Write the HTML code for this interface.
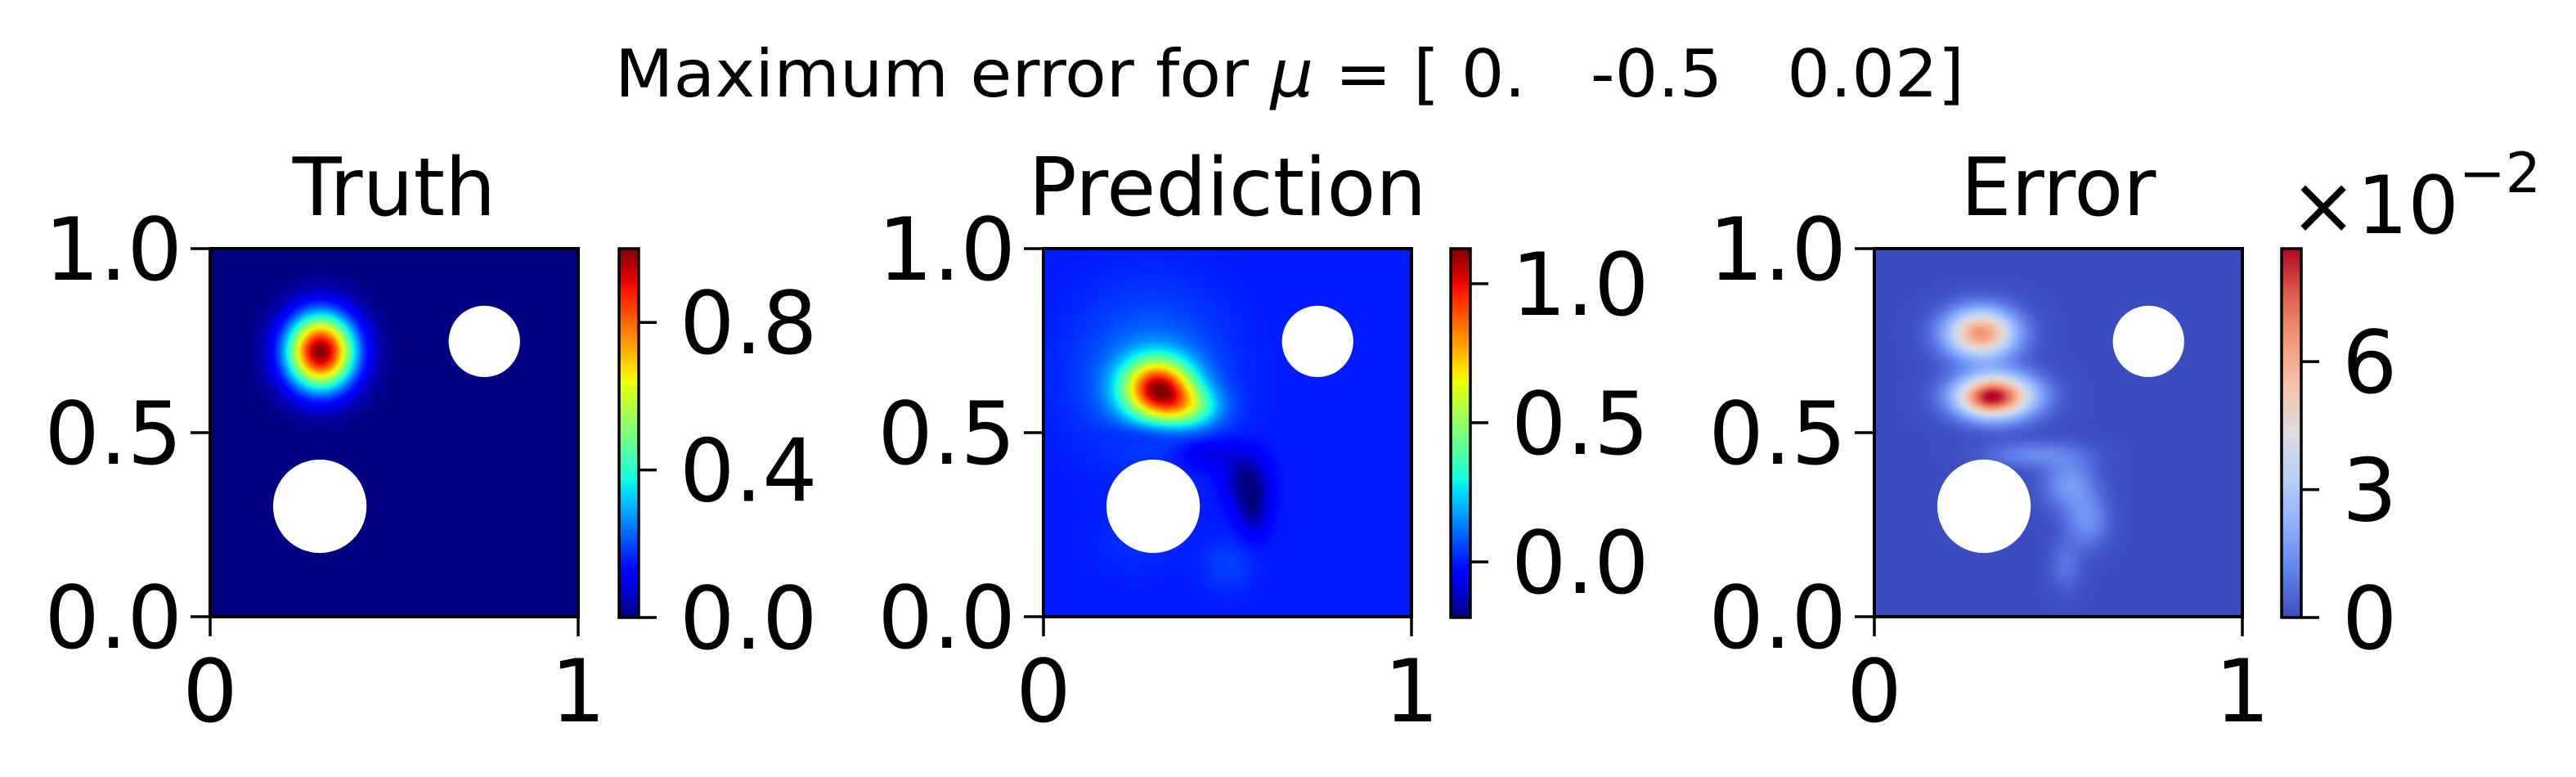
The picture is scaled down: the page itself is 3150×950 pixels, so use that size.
<!DOCTYPE html>
<html><head><meta charset="utf-8">
<style>
html,body{margin:0;padding:0;background:#fff;}
#root{position:relative;width:3150px;height:950px;overflow:hidden;font-family:"DejaVu Sans","Liberation Sans",sans-serif;}
canvas{position:absolute;}
svg{position:absolute;left:0;top:0;}
</style></head>
<body>
<div id="root">
<canvas id="c0" width="150" height="150" style="left:257px;top:304px;width:450px;height:450px"></canvas>
<canvas id="c1" width="150" height="150" style="left:1276px;top:304px;width:450px;height:450px"></canvas>
<canvas id="c2" width="150" height="150" style="left:2292px;top:304px;width:450px;height:450px"></canvas>
<canvas id="cb0" width="1" height="300" style="left:757px;top:304px;width:24px;height:451px"></canvas>
<canvas id="cb1" width="1" height="300" style="left:1774px;top:304px;width:24px;height:451px"></canvas>
<canvas id="cb2" width="1" height="300" style="left:2790px;top:304px;width:24px;height:451px"></canvas>
<svg id="ov" width="3150" height="950">
<text x="1577" y="118" text-anchor="middle" font-size="80" style="white-space:pre" xml:space="preserve" textLength="1650" lengthAdjust="spacingAndGlyphs">Maximum error for <tspan font-style="italic">μ</tspan> = [ 0.   -0.5   0.02]</text>
<text x="2800" y="285" font-size="98">×10<tspan font-size="68" dy="-50">−2</tspan></text>
</svg>
</div>
<script>
// ---- data ----
const panelTitles = ["Truth", "Prediction", "Error"];
const axisTicks = [0, 0.5, 1.0];
const axisTickLabels = ["0.0", "0.5", "1.0"];
const xTicks = [0, 1];
const xTickLabels = ["0", "1"];
const colorRanges = [[0, 1.0], [-0.2, 1.126], [0, 0.0865]];
const cbTicks0 = [0, 0.4, 0.8];
const cbLabels0 = ["0.0", "0.4", "0.8"];
const cbTicks1 = [0, 0.5, 1.0];
const cbLabels1 = ["0.0", "0.5", "1.0"];
const cbTicks2 = [0, 0.03, 0.06];
const cbLabels2 = ["0", "3", "6"];
// holes (cx, cy, r) in domain units
const holeX = [0.745, 0.298];
const holeY = [0.748, 0.30];
const holeR = [0.097, 0.127];
// Gaussian blob components of each field
const truthX = [0.30], truthY = [0.72], truthSX = [0.064], truthSY = [0.07], truthA = [1.0];
const predX = [0.31, 0.39, 0.29, 0.30, 0.45, 0.55, 0.57, 0.50, 0.25];
const predY = [0.62, 0.57, 0.66, 0.50, 0.44, 0.37, 0.29, 0.14, 0.20];
const predSX = [0.065, 0.06, 0.13, 0.08, 0.06, 0.04, 0.03, 0.05, 0.08];
const predSY = [0.055, 0.04, 0.14, 0.025, 0.03, 0.05, 0.05, 0.05, 0.06];
const predA = [0.95, 0.35, 0.13, -0.08, -0.1, -0.18, -0.15, 0.05, 0.025];
const errX = [0.29, 0.33, 0.30, 0.43, 0.53, 0.58, 0.52];
const errY = [0.77, 0.60, 0.59, 0.44, 0.36, 0.26, 0.14];
const errSX = [0.066, 0.075, 0.05, 0.09, 0.05, 0.04, 0.03];
const errSY = [0.046, 0.042, 0.03, 0.025, 0.05, 0.05, 0.05];
const errA = [0.066, 0.074, 0.016, 0.012, 0.016, 0.014, 0.008];

// ---- colormaps ----
function interp(pts, t){
  for(let i=1;i<pts.length;i++){ if(t<=pts[i][0]){const a=pts[i-1],b=pts[i];const f=(t-a[0])/(b[0]-a[0]||1);return a[1]+(b[1]-a[1])*f;} }
  return pts[pts.length-1][1];
}
const jR=[[0,0],[0.35,0],[0.66,1],[0.89,1],[1,0.5]];
const jG=[[0,0],[0.125,0],[0.375,1],[0.64,1],[0.91,0],[1,0]];
const jB=[[0,0.5],[0.11,1],[0.34,1],[0.65,0],[1,0]];
function jet(t){t=Math.max(0,Math.min(1,t));return [interp(jR,t)*255,interp(jG,t)*255,interp(jB,t)*255];}
const cw=[[0,[59,76,192]],[0.125,[98,130,234]],[0.25,[141,176,254]],[0.375,[184,208,249]],[0.5,[221,221,221]],[0.625,[245,196,173]],[0.75,[244,154,123]],[0.875,[222,96,77]],[1,[180,4,38]]];
function coolwarm(t){t=Math.max(0,Math.min(1,t));
  for(let i=1;i<cw.length;i++){ if(t<=cw[i][0]){const a=cw[i-1],b=cw[i];const f=(t-a[0])/(b[0]-a[0]);return [0,1,2].map(k=>a[1][k]+(b[1][k]-a[1][k])*f);} }
  return cw[cw.length-1][1];}
const cmaps=[jet,jet,coolwarm];
const fields=[[truthX,truthY,truthSX,truthSY,truthA],[predX,predY,predSX,predSY,predA],[errX,errY,errSX,errSY,errA]];
function fieldVal(f,x,y){let v=0;const [X,Y,SX,SY,A]=f;
  for(let i=0;i<X.length;i++){const dx=(x-X[i])/SX[i],dy=(y-Y[i])/SY[i];v+=A[i]*Math.exp(-0.5*(dx*dx+dy*dy));}
  return v;}

for(let p=0;p<3;p++){
  const c=document.getElementById('c'+p),ctx=c.getContext('2d'),N=150,img=ctx.createImageData(N,N);
  const [lo,hi]=colorRanges[p];
  for(let j=0;j<N;j++)for(let i=0;i<N;i++){
    const x=(i+0.5)/N,y=1-(j+0.5)/N;
    const col=cmaps[p]((fieldVal(fields[p],x,y)-lo)/(hi-lo));
    const k=(j*N+i)*4;img.data[k]=col[0];img.data[k+1]=col[1];img.data[k+2]=col[2];img.data[k+3]=255;}
  ctx.putImageData(img,0,0);
  const cb=document.getElementById('cb'+p),cctx=cb.getContext('2d'),cim=cctx.createImageData(1,300);
  for(let j=0;j<300;j++){const col=cmaps[p](1-(j+0.5)/300);cim.data[j*4]=col[0];cim.data[j*4+1]=col[1];cim.data[j*4+2]=col[2];cim.data[j*4+3]=255;}
  cctx.putImageData(cim,0,0);
}

// ---- axes / overlay ----
const NS='http://www.w3.org/2000/svg';
const svg=document.getElementById('ov');
const axLeft=[257,1276,2292], axTop=304, axSize=450, cbLeft=[757,1774,2790], cbW=24, cbH=451;
function mk(tag,attrs,parent){const e=document.createElementNS(NS,tag);for(const k in attrs)e.setAttribute(k,attrs[k]);(parent||svg).appendChild(e);return e;}
const cbTicksAll=[cbTicks0,cbTicks1,cbTicks2], cbLabelsAll=[cbLabels0,cbLabels1,cbLabels2];
const FS=106;
for(let p=0;p<3;p++){
  const L=axLeft[p];
  const sx=v=>L+v*axSize, sy=v=>axTop+axSize-v*axSize;
  for(let h=0;h<holeX.length;h++){
    const c=mk('circle',{cx:sx(holeX[h]),cy:sy(holeY[h]),r:holeR[h]*axSize,fill:'#fff'});
    
    
  }
  const fr=mk('rect',{x:L,y:axTop,width:axSize,height:axSize,fill:'none',stroke:'#000','stroke-width':4});
  
  
  const t=mk('text',{x:L+axSize/2,y:263,'text-anchor':'middle','font-size':98});
  t.textContent=panelTitles[p];
  
  
  axisTicks.forEach((v,i)=>{
    mk('line',{x1:L-24,x2:L,y1:sy(v),y2:sy(v),stroke:'#000','stroke-width':3.5});
    const tl=mk('text',{x:L-34,y:sy(v)+38,'text-anchor':'end','font-size':FS});
    tl.textContent=axisTickLabels[i];
    
    
  });
  xTicks.forEach((v,i)=>{
    mk('line',{x1:sx(v),x2:sx(v),y1:axTop+axSize,y2:axTop+axSize+24,stroke:'#000','stroke-width':3.5});
    const tl=mk('text',{x:sx(v),y:882,'text-anchor':'middle','font-size':FS});
    tl.textContent=xTickLabels[i];
    
    
  });
  const [lo,hi]=colorRanges[p], cL=cbLeft[p];
  const cy=v=>axTop+cbH-(v-lo)/(hi-lo)*cbH;
  const cf=mk('rect',{x:cL,y:axTop,width:cbW,height:cbH,fill:'none',stroke:'#000','stroke-width':3.5});
  
  
  cbTicksAll[p].forEach((v,i)=>{
    mk('line',{x1:cL+cbW,x2:cL+cbW+22,y1:cy(v),y2:cy(v),stroke:'#000','stroke-width':3.5});
    const tl=mk('text',{x:cL+cbW+50,y:cy(v)+38,'font-size':FS});
    tl.textContent=cbLabelsAll[p][i];
    
    
  });
}
</script>
</body></html>
